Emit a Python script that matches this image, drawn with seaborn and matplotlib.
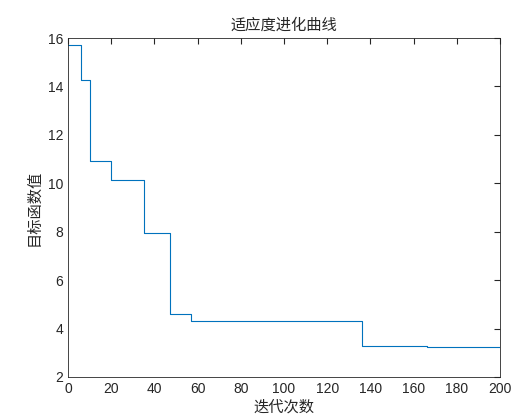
import numpy as np
import pandas as pd
import matplotlib
matplotlib.use('Agg')
import matplotlib.pyplot as plt
import seaborn as sns

# generation where the best value changes, and the value from then on
change_gen = [0, 6, 10, 20, 35, 47, 57, 136, 166, 200]
best_val = [15.72, 14.25, 10.9, 10.15, 7.95, 4.6, 4.33, 3.3, 3.22, 3.22]

df = pd.DataFrame({'gen': change_gen, 'val': best_val})

sns.set_style('white')
plt.rcParams['font.family'] = ['Liberation Sans', 'Noto Sans CJK SC', 'DejaVu Sans']

fig = plt.figure(figsize=(5.28, 4.2), dpi=100)
ax = fig.add_axes([68/528, 43/420, 432/528, 339/420])
sns.lineplot(data=df, x='gen', y='val', ax=ax, color='#0072BD', linewidth=0.8,
             drawstyle='steps-post')

ax.set_xlim(0, 200)
ax.set_ylim(2, 16)
ax.set_xticks(range(0, 201, 20))
ax.set_yticks(range(2, 17, 2))
ax.tick_params(direction='in', length=4, labelsize=10, top=True, right=True)
for s in ax.spines.values():
    s.set_color('#262626')
    s.set_linewidth(0.6)

cjk = ['Noto Sans CJK SC', 'DejaVu Sans']
ax.set_title('适应度进化曲线', family=cjk, fontsize=11)
ax.set_xlabel('迭代次数', family=cjk, fontsize=11, labelpad=2)
ax.set_ylabel('目标函数值', family=cjk, fontsize=11)

fig.savefig('out.png', dpi=100)
